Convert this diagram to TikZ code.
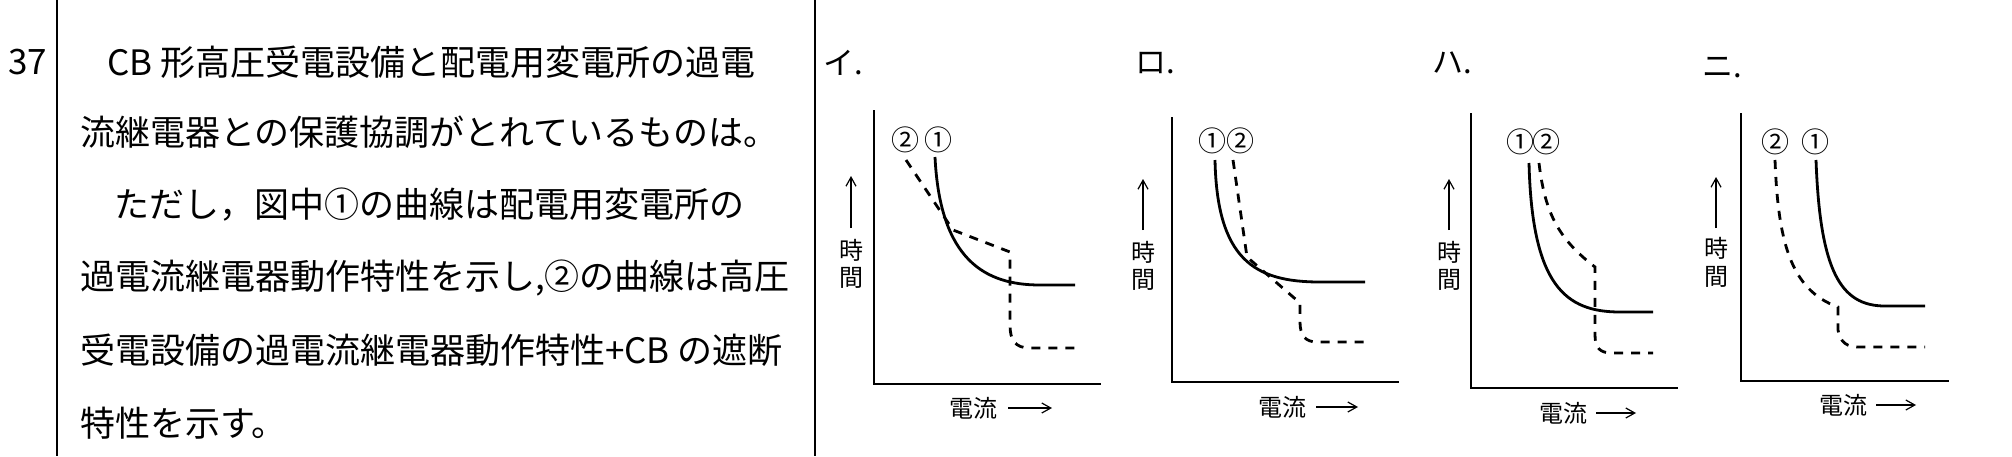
\documentclass[tikz,border=0pt]{standalone}
\usepackage{fontspec}
\setmainfont{Noto Sans CJK JP}
\usetikzlibrary{arrows.meta}
\begin{document}
\begin{tikzpicture}[x=1pt,y=-1pt,
  txt/.style={anchor=west,inner sep=0pt,font=\fontsize{35}{35}\selectfont},
  lab/.style={inner sep=0pt,font=\fontsize{31}{31}\selectfont},
  ax/.style={inner sep=0pt,font=\fontsize{24}{24}\selectfont},
  num/.style={inner sep=0pt,font=\fontsize{28}{28}\selectfont},
  axis/.style={line width=1.6pt},
  sol/.style={line width=2.8pt},
  dsh/.style={line width=2.8pt,dash pattern=on 9pt off 8pt},
  arr/.style={line width=1.2pt,-{Straight Barb[length=9pt,width=10pt]}}]
\useasboundingbox (0,0) rectangle (2012,456);
\fill[white] (0,0) rectangle (2012,456);
\draw[line width=1.6pt] (57,0) -- (57,456);
\draw[line width=1.6pt] (815,0) -- (815,456);
\node[txt] (q) at (8,62) {37};
\node[txt] (l1) at (107,62) {CB 形高圧受電設備と配電用変電所の過電};
\node[txt] (l2) at (80,132) {流継電器との保護協調がとれているものは。};
\node[txt] (l3) at (114,205) {ただし，図中①の曲線は配電用変電所の};
\node[txt] (l4) at (80,278) {過電流継電器動作特性を示し,②の曲線は高圧};
\node[txt] (l5) at (80,350) {受電設備の過電流継電器動作特性+CB の遮断};
\node[txt] (l6) at (80,423) {特性を示す。};
% I
\node[lab] (ti) at (843,63) {イ.};
\draw[axis] (874,110) -- (874,384) -- (1101,384);
\coordinate (ia1) at (851,228); \coordinate (ia2) at (851,176);
\draw[arr] (ia1) -- (ia2);
\node[ax] (it1) at (851,250) {時}; \node[ax] (it2) at (851,278) {間};
\node[ax] (ic) at (973,408) {電流};
\coordinate (ib1) at (1008,408); \coordinate (ib2) at (1052,408);
\draw[arr] (ib1) -- (ib2);
\node[num] (i2) at (905,140) {②}; \node[num] (i1) at (938,140) {①};
\draw[sol] (935,157) .. controls (940,260) and (985,285) .. (1040,285) -- (1075,285);
\draw[dsh] (906,160) -- (953,230) -- (1010,252) -- (1010,325) .. controls (1010,340) and (1015,348) .. (1030,348) -- (1075,348);
% RO
\node[lab] (tr) at (1155,63) {ロ.};
\draw[axis] (1172,117) -- (1172,382) -- (1399,382);
\coordinate (ra1) at (1143,230); \coordinate (ra2) at (1143,179);
\draw[arr] (ra1) -- (ra2);
\node[ax] (rt1) at (1143,252) {時}; \node[ax] (rt2) at (1143,280) {間};
\node[ax] (rc) at (1282,407) {電流};
\coordinate (rb1) at (1316,407); \coordinate (rb2) at (1358,407);
\draw[arr] (rb1) -- (rb2);
\node[num] (r1) at (1212,141) {①}; \node[num] (r2) at (1240,141) {②};
\draw[sol] (1215,160) .. controls (1217,260) and (1255,282) .. (1320,282) -- (1365,282);
\draw[dsh] (1233,160) -- (1247,257) -- (1300,303) -- (1300,322) .. controls (1300,335) and (1305,342) .. (1317,342) -- (1367,342);
% HA
\node[lab] (th) at (1452,63) {ハ.};
\draw[axis] (1471,113) -- (1471,388) -- (1678,388);
\coordinate (ha1) at (1449,230); \coordinate (ha2) at (1449,179);
\draw[arr] (ha1) -- (ha2);
\node[ax] (ht1) at (1449,252) {時}; \node[ax] (ht2) at (1449,280) {間};
\node[ax] (hc) at (1563,413) {電流};
\coordinate (hb1) at (1596,413); \coordinate (hb2) at (1636,413);
\draw[arr] (hb1) -- (hb2);
\node[num] (h1) at (1520,142) {①}; \node[num] (h2) at (1546,142) {②};
\draw[sol] (1529,163) .. controls (1532,285) and (1565,312) .. (1620,312) -- (1653,312);
\draw[dsh] (1539,163) .. controls (1545,215) and (1560,240) .. (1595,267) -- (1595,335) .. controls (1595,348) and (1600,353) .. (1612,353) -- (1653,353);
% NI
\node[lab] (tn) at (1722,68) {ニ.};
\draw[axis] (1741,113) -- (1741,381) -- (1949,381);
\coordinate (na1) at (1716,228); \coordinate (na2) at (1716,177);
\draw[arr] (na1) -- (na2);
\node[ax] (nt1) at (1716,248) {時}; \node[ax] (nt2) at (1716,277) {間};
\node[ax] (nc) at (1843,405) {電流};
\coordinate (nb1) at (1876,405); \coordinate (nb2) at (1916,405);
\draw[arr] (nb1) -- (nb2);
\node[num] (n2) at (1775,142) {②}; \node[num] (n1) at (1815,142) {①};
\draw[sol] (1816,160) .. controls (1820,270) and (1840,306) .. (1885,306) -- (1925,306);
\draw[dsh] (1775,160) .. controls (1778,240) and (1790,290) .. (1838,307) -- (1838,330) .. controls (1840,343) and (1848,347) .. (1858,347) -- (1925,347);
\end{tikzpicture}
\end{document}
